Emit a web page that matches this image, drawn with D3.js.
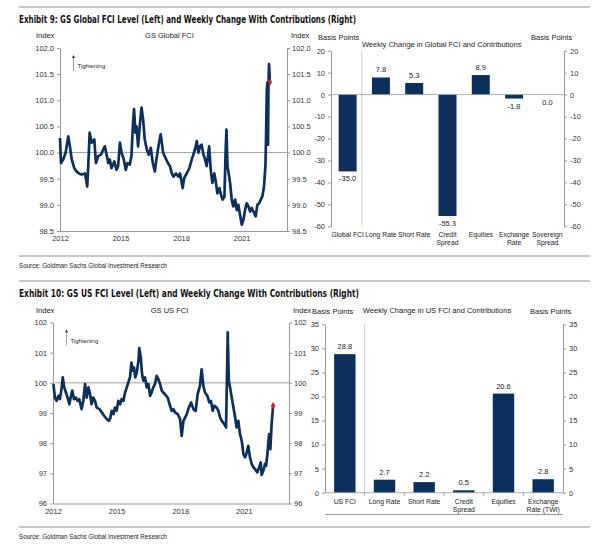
<!DOCTYPE html>
<html>
<head>
<meta charset="utf-8">
<script src="https://cdn.jsdelivr.net/npm/d3@7"></script>
<style>
  body { margin: 0; background: #fff; }
  text { font-family: "Liberation Sans", Arial, sans-serif; fill: #222; }
  .title { font-family: "Liberation Sans Narrow", "DejaVu Sans Condensed", "Liberation Sans", sans-serif; font-weight: bold; font-size: 10px; fill: #111; }
  .axis text { font-size: 7.5px; fill: #333; }
  .axis path, .axis line { stroke: #999; }
</style>
</head>
<body>
<svg id="chart" width="600" height="553"></svg>
<script>
// GS Global FCI, weekly level
const globalYears = [2012.00,2012.05,2012.16,2012.28,2012.41,2012.49,2012.58,2012.71,2012.82,2012.94,
  2013.07,2013.24,2013.35,2013.40,2013.47,2013.57,2013.70,2013.78,2013.89,2014.03,
  2014.14,2014.22,2014.31,2014.39,2014.47,2014.55,2014.69,2014.80,2014.88,2014.97,
  2015.05,2015.16,2015.26,2015.34,2015.46,2015.54,2015.62,2015.67,2015.74,2015.79,
  2015.87,2015.95,2016.04,2016.12,2016.20,2016.30,2016.40,2016.50,2016.60,2016.70,
  2016.78,2016.89,2016.99,2017.11,2017.19,2017.35,2017.45,2017.54,2017.62,2017.75,
  2017.87,2017.95,2018.08,2018.15,2018.28,2018.41,2018.53,2018.61,2018.69,2018.78,
  2018.86,2018.94,2019.02,2019.11,2019.19,2019.27,2019.39,2019.47,2019.55,2019.65,
  2019.73,2019.80,2019.90,2019.98,2020.06,2020.15,2020.21,2020.25,2020.30,2020.36,
  2020.43,2020.51,2020.59,2020.68,2020.76,2020.84,2020.92,2021.01,2021.09,2021.17,
  2021.25,2021.34,2021.42,2021.50,2021.59,2021.70,2021.78,2021.87,2021.95,2022.03,
  2022.11,2022.18,2022.21,2022.25,2022.28,2022.31,2022.33,2022.36,2022.40];
const globalLevel = [100.28,99.80,99.87,100.00,100.31,100.12,99.87,99.70,99.64,99.60,
  99.58,99.60,99.35,99.74,100.38,100.19,100.25,99.80,99.93,99.96,
  100.06,100.12,99.96,99.80,99.87,99.70,99.83,99.67,99.74,100.19,
  100.00,99.87,99.67,99.80,99.77,99.93,100.57,100.83,100.38,100.50,
  100.12,100.50,100.86,100.63,100.25,100.06,99.96,100.09,99.80,99.64,
  99.87,100.15,100.35,100.00,99.93,99.80,99.74,99.60,99.54,99.60,
  99.54,99.60,99.32,99.51,99.60,99.70,99.87,99.96,100.06,100.22,
  100.00,100.12,100.15,99.96,99.87,99.74,100.12,99.67,99.42,99.60,
  99.42,99.22,99.32,99.19,99.10,99.16,100.06,100.44,99.74,99.60,
  99.42,99.10,98.97,99.10,98.90,99.00,98.81,98.62,98.71,98.90,
  99.03,98.97,98.87,98.94,98.87,98.78,99.00,99.03,99.10,99.16,
  99.35,99.74,100.25,101.21,101.34,100.15,101.28,101.69,101.35];

// GS US FCI, weekly level
const usYears = [2012.02,2012.09,2012.17,2012.25,2012.33,2012.41,2012.46,2012.53,2012.61,2012.69,
  2012.77,2012.85,2012.91,2012.99,2013.08,2013.16,2013.24,2013.35,2013.43,2013.51,
  2013.59,2013.67,2013.75,2013.82,2013.90,2013.98,2014.06,2014.19,2014.30,2014.41,
  2014.53,2014.63,2014.69,2014.77,2014.85,2014.92,2015.00,2015.08,2015.16,2015.24,
  2015.32,2015.40,2015.48,2015.55,2015.63,2015.70,2015.76,2015.82,2015.88,2015.95,
  2016.03,2016.07,2016.14,2016.20,2016.26,2016.34,2016.42,2016.50,2016.58,2016.65,
  2016.73,2016.81,2016.89,2016.97,2017.05,2017.13,2017.20,2017.28,2017.41,2017.52,
  2017.60,2017.68,2017.75,2017.88,2017.99,2018.07,2018.15,2018.23,2018.31,2018.38,
  2018.51,2018.62,2018.73,2018.82,2018.93,2019.01,2019.09,2019.17,2019.28,2019.37,
  2019.45,2019.53,2019.61,2019.72,2019.80,2019.88,2019.96,2020.08,2020.16,2020.21,
  2020.24,2020.29,2020.35,2020.43,2020.51,2020.59,2020.66,2020.74,2020.82,2020.90,
  2020.98,2021.06,2021.14,2021.21,2021.29,2021.37,2021.45,2021.53,2021.64,2021.72,
  2021.80,2021.84,2021.92,2022.00,2022.05,2022.11,2022.19,2022.25,2022.31,2022.38];
const usLevel = [99.96,99.51,99.40,99.57,99.46,99.85,100.18,99.85,99.68,99.51,
  99.29,99.57,99.74,99.46,99.51,99.40,99.46,99.13,99.40,99.96,
  99.51,99.85,99.62,99.29,99.51,99.40,99.18,99.13,99.02,98.91,
  98.80,98.74,98.80,99.07,98.96,99.18,99.07,99.40,99.29,99.46,
  99.40,99.68,99.85,100.01,100.18,100.67,100.40,100.51,100.18,100.34,
  100.73,101.15,100.84,100.29,100.07,100.18,99.85,99.96,99.57,99.68,
  99.85,99.96,100.23,100.12,99.96,99.74,99.68,99.62,99.51,99.24,
  99.07,99.13,99.02,98.96,98.80,98.24,98.74,98.85,98.96,99.13,
  99.35,99.13,99.07,99.62,99.90,100.45,99.90,99.68,99.57,99.35,
  99.40,99.07,99.24,99.18,99.07,98.85,98.74,98.63,98.52,100.40,
  101.67,100.07,99.85,99.51,99.18,98.85,98.52,98.74,98.30,98.08,
  97.64,97.53,97.69,97.91,97.53,97.31,97.20,97.14,97.03,97.20,
  97.36,96.95,97.09,97.31,97.25,97.64,98.30,97.80,98.63,99.24];

const yearTicks = [2012, 2015, 2018, 2021];
const globalLevelTicks = [98.5, 99.0, 99.5, 100.0, 100.5, 101.0, 101.5, 102.0];
const usLevelTicks = [96, 97, 98, 99, 100, 101, 102];

const globalCats = ["Global FCI", "Long Rate", "Short Rate", "Credit\nSpread", "Equities", "Exchange\nRate", "Sovereign\nSpread"];
const globalChange = [-35.0, 7.8, 5.3, -55.3, 8.9, -1.8, 0.0];
const globalBpTicks = [-60, -50, -40, -30, -20, -10, 0, 10, 20];

const usCats = ["US FCI", "Long Rate", "Short Rate", "Credit\nSpread", "Equities", "Exchange\nRate (TWI)"];
const usChange = [28.8, 2.7, 2.2, 0.5, 20.6, 2.8];
const usBpTicks = [0, 5, 10, 15, 20, 25, 30, 35];

const navy = "#0c2f5c";
const loc = d3.formatLocale({ decimal: ".", thousands: ",", grouping: [3], currency: ["$", ""], minus: "-" });
const f1 = loc.format(".1f");
const f0 = loc.format("d");

const svg = d3.select("#chart");

// header / footer rules and texts
const rule = (y) => svg.append("line").attr("x1", 19).attr("x2", 590).attr("y1", y).attr("y2", y)
  .attr("stroke", "#c8c8c8").attr("stroke-width", 2);
rule(7); rule(256); rule(281); rule(527);

svg.append("text").attr("class", "title").attr("x", 19).attr("y", 22.5)
  .attr("textLength", 337).attr("lengthAdjust", "spacingAndGlyphs")
  .text("Exhibit 9: GS Global FCI Level (Left) and Weekly Change With Contributions (Right)");
svg.append("text").attr("class", "title").attr("x", 19).attr("y", 297)
  .attr("textLength", 340).attr("lengthAdjust", "spacingAndGlyphs")
  .text("Exhibit 10: GS US FCI Level (Left) and Weekly Change With Contributions (Right)");

[267.5, 539].forEach(y => {
  svg.append("text").attr("x", 19).attr("y", y).attr("font-size", 7).attr("fill", "#555")
    .attr("textLength", 148).attr("lengthAdjust", "spacingAndGlyphs")
    .text("Source: Goldman Sachs Global Investment Research");
});

function drawLevel(opt) {
  const x = d3.scaleLinear().domain(opt.xDomain).range([opt.left, opt.right]);
  const y = d3.scaleLinear().domain(opt.yDomain).range([opt.bottom, opt.top]);
  const g = svg.append("g");

  g.append("g").attr("class", "axis").attr("transform", `translate(${opt.left},0)`)
    .call(d3.axisLeft(y).tickValues(opt.ticks).tickFormat(opt.fmt).tickSize(3).tickSizeOuter(0).tickPadding(3));
  g.append("g").attr("class", "axis").attr("transform", `translate(${opt.right},0)`)
    .call(d3.axisRight(y).tickValues(opt.ticks).tickFormat(opt.fmt).tickSize(3).tickSizeOuter(0).tickPadding(2));
  const xa = g.append("g").attr("class", "axis").attr("transform", `translate(0,${opt.bottom})`)
    .call(d3.axisBottom(x).tickValues(yearTicks).tickFormat(d3.format("d")).tickSize(0).tickSizeOuter(0).tickPadding(5));
  xa.selectAll("text").attr("font-size", 8).attr("fill", "#222");

  // 100 reference line
  g.append("line").attr("x1", opt.left).attr("x2", opt.right)
    .attr("y1", y(100)).attr("y2", y(100)).attr("stroke", "#888").attr("stroke-width", 0.8);

  const pts = opt.years.map((d, i) => [d, opt.values[i]]);
  g.append("path").datum(pts)
    .attr("fill", "none").attr("stroke", navy).attr("stroke-width", 2.7).attr("stroke-linejoin", "round")
    .attr("d", d3.line().x(d => x(d[0])).y(d => y(d[1])));

  const last = pts[pts.length - 1];
  g.append("path").attr("d", d3.symbol(d3.symbolDiamond, 16)())
    .attr("transform", `translate(${x(last[0])},${y(last[1])})`).attr("fill", "#c8202c");

  g.append("text").attr("x", 36).attr("y", opt.top - 10).attr("font-size", 7.5).text("Index");
  g.append("text").attr("x", opt.right + 4).attr("y", opt.top - 10).attr("font-size", 7.5).text("Index");
  g.append("text").attr("x", 169.5).attr("y", opt.top - 10).attr("font-size", 7.5).attr("text-anchor", "middle").text(opt.label);

  // tightening arrow
  const ax = opt.left + 13.5;
  g.append("line").attr("x1", ax).attr("x2", ax).attr("y1", opt.top + 23).attr("y2", opt.top + 10)
    .attr("stroke", "#777").attr("stroke-width", 0.7);
  g.append("path").attr("d", `M${ax - 1.6},${opt.top + 10}L${ax + 1.6},${opt.top + 10}L${ax},${opt.top + 7}Z`).attr("fill", "#333");
  g.append("text").attr("x", ax + 4).attr("y", opt.top + 20).attr("font-size", 6).text("Tightening");
}

function drawChange(opt) {
  const x = d3.scaleBand().domain(opt.cats).range([opt.left, opt.right]).paddingInner(0.46).paddingOuter(0.23);
  const y = d3.scaleLinear().domain(opt.yDomain).range([opt.bottom, opt.top]);
  const g = svg.append("g");

  g.append("g").attr("class", "axis").attr("transform", `translate(${opt.left},0)`)
    .call(d3.axisLeft(y).tickValues(opt.ticks).tickFormat(f0).tickSize(3).tickSizeOuter(0).tickPadding(3));
  g.append("g").attr("class", "axis").attr("transform", `translate(${opt.right},0)`)
    .call(d3.axisRight(y).tickValues(opt.ticks).tickFormat(f0).tickSize(3).tickSizeOuter(0).tickPadding(3));

  g.selectAll("rect.bar").data(opt.values).join("rect").attr("class", "bar")
    .attr("x", (d, i) => x(opt.cats[i]))
    .attr("width", x.bandwidth())
    .attr("y", d => y(Math.max(0, d)))
    .attr("height", d => Math.abs(y(d) - y(0)))
    .attr("fill", navy);

  // zero line
  g.append("line").attr("x1", opt.left).attr("x2", opt.right).attr("y1", y(0)).attr("y2", y(0))
    .attr("stroke", "#999").attr("stroke-width", 0.8);
  if (opt.zeroTicks) {
    opt.cats.slice(1).forEach(c => {
      const bx = x(c) - x.step() * x.paddingInner() / 2;
      g.append("line").attr("x1", bx).attr("x2", bx).attr("y1", y(0)).attr("y2", y(0) + 3).attr("stroke", "#999");
    });
  }

  // separator between total and contributions
  const sx = (x(opt.cats[0]) + x.bandwidth() + x(opt.cats[1])) / 2 + opt.sepShift;
  g.append("line").attr("x1", sx).attr("x2", sx).attr("y1", opt.top).attr("y2", opt.bottom)
    .attr("stroke", "#888").attr("stroke-width", 0.8).attr("stroke-dasharray", "1,1");

  g.selectAll("text.val").data(opt.values).join("text").attr("class", "val")
    .attr("x", (d, i) => x(opt.cats[i]) + x.bandwidth() / 2)
    .attr("y", d => d > 0 ? y(d) - 5 : y(d) + 10)
    .attr("text-anchor", "middle").attr("font-size", 7.5).text(d => f1(d));

  opt.cats.forEach(c => {
    const t = g.append("text").attr("x", x(c) + x.bandwidth() / 2).attr("y", opt.catY)
      .attr("text-anchor", "middle").attr("font-size", 6.8);
    c.split("\n").forEach((s, i) => t.append("tspan").attr("x", x(c) + x.bandwidth() / 2).attr("dy", i ? 8 : 0).text(s));
  });

  g.append("text").attr("x", opt.left - 13).attr("y", opt.labelY).attr("font-size", 7.5).text("Basis Points");
  g.append("text").attr("x", opt.right - 33).attr("y", opt.labelY).attr("font-size", 7.5).text("Basis Points");
  g.append("text").attr("x", opt.titleX).attr("y", opt.titleY).attr("font-size", 7.5).attr("text-anchor", "middle").text(opt.label);
}

drawLevel({ years: globalYears, values: globalLevel, xDomain: [2012, 2023.25], yDomain: [98.5, 102],
  left: 60, right: 287, top: 48, bottom: 231, ticks: globalLevelTicks, fmt: f1, label: "GS Global FCI" });
drawLevel({ years: usYears, values: usLevel, xDomain: [2012, 2023.13], yDomain: [96, 102],
  left: 53, right: 289, top: 322.5, bottom: 503.5, ticks: usLevelTicks, fmt: f0, label: "GS US FCI" });

drawChange({ cats: globalCats, values: globalChange, yDomain: [-60, 20], ticks: globalBpTicks,
  left: 331, right: 564, top: 50.7, bottom: 226.3, catY: 236.8, labelY: 39.5,
  titleX: 441.7, titleY: 46.5, label: "Weekly Change in Global FCI and Contributions", sepShift: -2.5, zeroTicks: false });
drawChange({ cats: usCats, values: usChange, yDomain: [0, 35], ticks: usBpTicks,
  left: 325, right: 563, top: 324.3, bottom: 492.7, catY: 503.5, labelY: 314,
  titleX: 437, titleY: 312.5, label: "Weekly Change in US FCI and Contributions", sepShift: 0, zeroTicks: true });

// rule under the US contribution categories
svg.append("line").attr("x1", 325).attr("x2", 563).attr("y1", 514.5).attr("y2", 514.5).attr("stroke", "#999").attr("stroke-width", 1);
</script>
</body>
</html>
